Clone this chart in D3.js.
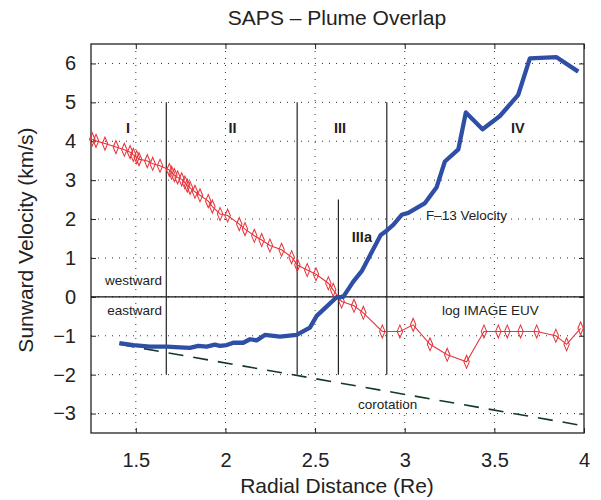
<!DOCTYPE html>
<html>
<head>
<meta charset="utf-8">
<script src="https://cdn.jsdelivr.net/npm/d3@7"></script>
<style>
  body { margin: 0; background: #fff; }
  svg { font-family: "Liberation Sans", Arial, sans-serif; }
  .grid line { stroke: #333; stroke-width: 1; stroke-dasharray: 1 6; }
</style>
</head>
<body>
<svg id="chart" width="601" height="500"></svg>
<script>
// F-13 velocity (blue) : radial distance / sunward velocity
let blueX = [1.408, 1.486, 1.579, 1.672, 1.746, 1.802, 1.848, 1.895, 1.941, 1.969, 2.007, 2.044, 2.099, 2.137, 2.174, 2.220, 2.304, 2.397, 2.471, 2.509, 2.564, 2.620, 2.657, 2.713, 2.760, 2.866, 2.899, 2.936, 2.983, 3.020, 3.113, 3.178, 3.224, 3.299, 3.341, 3.434, 3.531, 3.633, 3.698, 3.847, 3.968],
    blueY = [-1.19, -1.24, -1.28, -1.28, -1.30, -1.31, -1.26, -1.28, -1.23, -1.26, -1.24, -1.18, -1.18, -1.09, -1.12, -0.98, -1.02, -0.98, -0.79, -0.49, -0.25, -0.01, 0.0, 0.39, 0.66, 1.59, 1.70, 1.85, 2.11, 2.16, 2.41, 2.82, 3.48, 3.79, 4.74, 4.31, 4.65, 5.19, 6.13, 6.16, 5.79];

// log IMAGE EUV (red diamonds)
let redX = [1.257, 1.278, 1.328, 1.389, 1.436, 1.468, 1.486, 1.505, 1.518, 1.564, 1.594, 1.635, 1.687, 1.700, 1.715, 1.733, 1.756, 1.774, 1.787, 1.803, 1.830, 1.858, 1.904, 1.927, 1.970, 2.012, 2.077, 2.109, 2.161, 2.202, 2.248, 2.313, 2.369, 2.401, 2.456, 2.505, 2.574, 2.601, 2.648, 2.717, 2.769, 2.875, 2.973, 3.047, 3.141, 3.237, 3.345, 3.442, 3.522, 3.572, 3.646, 3.736, 3.843, 3.903, 3.981],
    redY = [4.05, 4.01, 3.94, 3.85, 3.78, 3.72, 3.65, 3.59, 3.54, 3.49, 3.42, 3.37, 3.26, 3.19, 3.13, 3.07, 3.02, 2.94, 2.86, 2.80, 2.70, 2.61, 2.46, 2.32, 2.13, 2.09, 1.87, 1.74, 1.57, 1.46, 1.32, 1.21, 1.02, 0.82, 0.69, 0.58, 0.35, 0.18, -0.12, -0.23, -0.41, -0.89, -0.89, -0.72, -1.22, -1.49, -1.67, -0.89, -0.89, -0.89, -0.89, -0.89, -1.00, -1.22, -0.81];

// corotation (dashed)
let coroX = [1.408, 3.968],
    coroY = [-1.22, -3.29];

// region boundaries: x, top, bottom
let bounds = [[1.67, 5, -2], [2.40, 5, -2], [2.63, 2.5, -2], [2.90, 5, -2]];

let regionLabels = ["I", "II", "III", "IIIa", "IV"],
    regionLabelX = [1.456, 2.04, 2.639, 2.761, 3.631],
    regionLabelY = [4.2, 4.2, 4.2, 1.41, 4.2];

let xTicks = [1.5, 2, 2.5, 3, 3.5, 4],
    yTicks = [-3, -2, -1, 0, 1, 2, 3, 4, 5, 6];

let svg = d3.select("#chart"),
    plot_left = 91, plot_right = 584, plot_top = 44, plot_bottom = 433;

let xScale = d3.scaleLinear().domain([1.25, 4]).range([plot_left, plot_right]);
let yScale = d3.scaleLinear().domain([-3.5, 6.5]).range([plot_bottom, plot_top]);

let line = d3.line()
    .x(d => xScale(d[0]))
    .y(d => yScale(d[1]));

// dotted grid
let grid = svg.append("g").attr("class", "grid");
grid.selectAll(".gx")
    .data(xTicks.filter(d => d < 4))
    .enter()
    .append("line")
    .attr("x1", d => xScale(d)).attr("x2", d => xScale(d))
    .attr("y1", plot_top).attr("y2", plot_bottom);
grid.selectAll(".gy")
    .data(yTicks)
    .enter()
    .append("line")
    .attr("x1", plot_left).attr("x2", plot_right)
    .attr("y1", d => yScale(d)).attr("y2", d => yScale(d));

// axes with inward ticks
svg.append("g")
    .attr("transform", "translate(0," + plot_bottom + ")")
    .call(d3.axisBottom(xScale).tickValues(xTicks).tickSize(-5).tickPadding(20).tickFormat(d3.format("")))
    .call(g => g.select(".domain").remove());
svg.append("g")
    .attr("transform", "translate(0," + plot_top + ")")
    .call(d3.axisTop(xScale).tickValues(xTicks).tickSize(-5).tickFormat(""))
    .call(g => g.select(".domain").remove());
svg.append("g")
    .attr("transform", "translate(" + plot_left + ",0)")
    .call(d3.axisLeft(yScale).tickValues(yTicks).tickSize(-5).tickPadding(15))
    .call(g => g.select(".domain").remove());
svg.append("g")
    .attr("transform", "translate(" + plot_right + ",0)")
    .call(d3.axisRight(yScale).tickValues(yTicks).tickSize(-5).tickFormat(""))
    .call(g => g.select(".domain").remove());

svg.selectAll(".tick text")
    .attr("font-size", 20)
    .attr("font-family", "Liberation Sans, Arial, sans-serif")
    .attr("fill", "#222");
svg.selectAll(".tick line").attr("stroke", "#222");

svg.append("rect")
    .attr("x", plot_left).attr("y", plot_top)
    .attr("width", plot_right - plot_left).attr("height", plot_bottom - plot_top)
    .attr("fill", "none").attr("stroke", "#222").attr("stroke-width", 1.3);

// zero line
svg.append("path")
    .attr("d", line([[1.25, 0], [4, 0]]))
    .attr("stroke", "#111").attr("stroke-width", 1.2);

// region boundaries
svg.append("g")
    .selectAll("path")
    .data(bounds)
    .enter()
    .append("path")
    .attr("d", d => line([[d[0], d[1]], [d[0], d[2]]]))
    .attr("stroke", "#222").attr("stroke-width", 1.2);

// corotation
svg.append("path")
    .attr("d", line(coroX.map((x, i) => [x, coroY[i]])))
    .attr("fill", "none")
    .attr("stroke", "#123a22").attr("stroke-width", 1.6)
    .attr("stroke-dasharray", "15 10");

// EUV red
let redPts = redX.map((x, i) => [x, redY[i]]);
svg.append("path")
    .attr("d", line(redPts))
    .attr("fill", "none")
    .attr("stroke", "#e8333a").attr("stroke-width", 1.1);
svg.append("g")
    .selectAll("path")
    .data(redPts)
    .enter()
    .append("path")
    .attr("d", d3.symbol(d3.symbolDiamond, 40))
    .attr("transform", d => "translate(" + xScale(d[0]) + "," + yScale(d[1]) + ") scale(0.8,1.1)")
    .attr("fill", "none")
    .attr("stroke", "#e8333a").attr("stroke-width", 1.2);

// F-13 blue
svg.append("path")
    .attr("d", line(blueX.map((x, i) => [x, blueY[i]])))
    .attr("fill", "none")
    .attr("stroke", "#2f4fa6").attr("stroke-width", 4.3)
    .attr("stroke-linejoin", "round");

// labels
svg.append("g")
    .selectAll("text")
    .data(regionLabels)
    .enter()
    .append("text")
    .text(d => d)
    .attr("x", (d, i) => xScale(regionLabelX[i]))
    .attr("y", (d, i) => yScale(regionLabelY[i]))
    .attr("text-anchor", "middle")
    .attr("font-size", 14.5).attr("font-weight", "bold").attr("fill", "#222");

// text, x, y, anchor
let notes = [
    ["westward", 1.646, 0.31, "end"],
    ["eastward", 1.646, -0.46, "end"],
    ["F\u201313 Velocity", 3.118, 1.98, "start"],
    ["log IMAGE EUV", 3.208, -0.465, "start"],
    ["corotation", 2.739, -2.88, "start"]
];
svg.append("g")
    .selectAll("text")
    .data(notes)
    .enter()
    .append("text")
    .text(d => d[0])
    .attr("x", d => xScale(d[1]))
    .attr("y", d => yScale(d[2]))
    .attr("text-anchor", d => d[3])
    .attr("font-size", 13.5).attr("fill", "#222");

svg.append("text")
    .text("SAPS \u2013 Plume Overlap")
    .attr("x", 337).attr("y", 25)
    .attr("text-anchor", "middle")
    .attr("font-size", 21).attr("fill", "#222");

svg.append("text")
    .text("Radial Distance (Re)")
    .attr("x", 337).attr("y", 493)
    .attr("text-anchor", "middle")
    .attr("font-size", 21).attr("fill", "#222");

svg.append("text")
    .text("Sunward Velocity (km/s)")
    .attr("transform", "translate(33,240) rotate(-90)")
    .attr("text-anchor", "middle")
    .attr("font-size", 21).attr("fill", "#222");
</script>
</body>
</html>
